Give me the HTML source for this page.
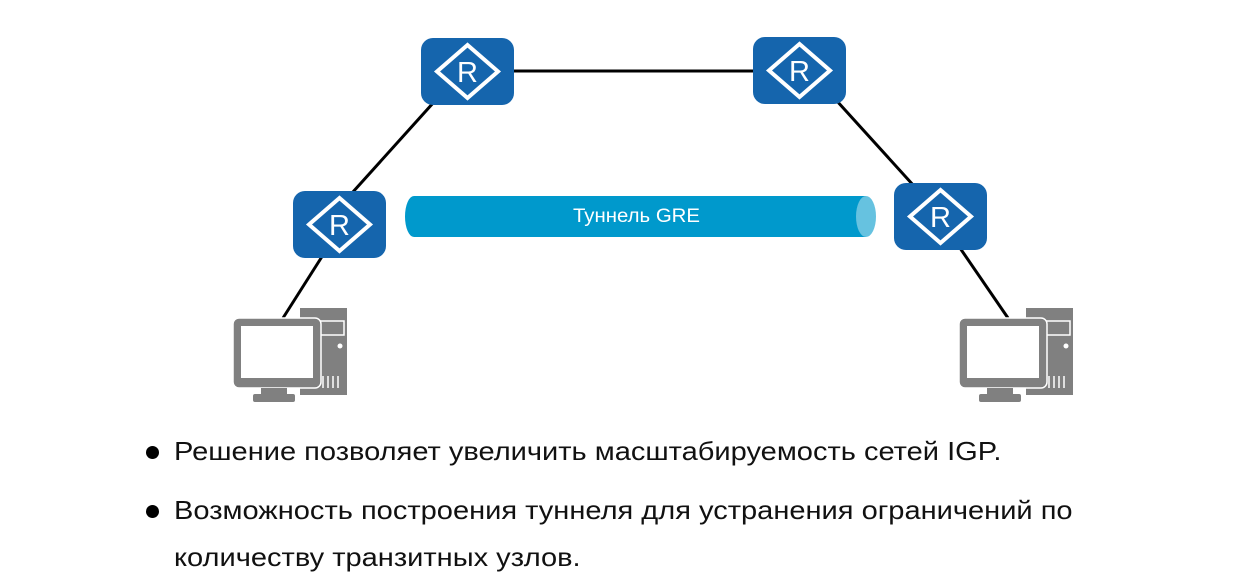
<!DOCTYPE html>
<html><head><meta charset="utf-8"><style>
body{margin:0;background:#fff;width:1253px;height:586px;overflow:hidden;position:relative;font-family:"Liberation Sans",Arial,sans-serif}
.t{position:absolute;left:174px;font-size:26px;color:#111;white-space:nowrap;transform:scaleX(1.117);transform-origin:0 0}
.b{position:absolute;left:146px;width:13px;height:13px;border-radius:50%;background:#000}
</style></head><body>
<svg width="1253" height="586" style="position:absolute;left:0;top:0">
<defs>
<g id="r">
<rect x="0" y="0" width="93" height="67" rx="12" fill="#1565ad"/>
<polygon points="46.5,7 77,33.5 46.5,60 16,33.5" fill="none" stroke="#fff" stroke-width="4"/>
<text x="46.5" y="44" text-anchor="middle" font-family="Liberation Sans,sans-serif" font-size="29" fill="#fff">R</text>
</g>
<g id="pc">
<rect x="67" y="0" width="47" height="87" fill="#808080"/>
<rect x="80" y="13" width="31" height="14" fill="none" stroke="#fff" stroke-width="1.5"/>
<circle cx="107" cy="38" r="2.5" fill="#fff"/>
<g stroke="#fff" stroke-width="1.5"><line x1="90" y1="68" x2="90" y2="80"/><line x1="95" y1="68" x2="95" y2="80"/><line x1="100" y1="68" x2="100" y2="80"/><line x1="105" y1="68" x2="105" y2="80"/></g>
<rect x="0" y="10" width="88" height="70" rx="6" fill="#808080" stroke="#fff" stroke-width="1.5"/>
<rect x="8" y="18" width="72" height="52" fill="#fff"/>
<rect x="28" y="80" width="26" height="6" fill="#808080"/>
<rect x="20" y="86" width="42" height="8" rx="2" fill="#808080"/>
</g>
</defs>
<g stroke="#000" stroke-width="3">
<line x1="514" y1="71" x2="753" y2="71"/>
<line x1="434" y1="102" x2="352" y2="193"/>
<line x1="323" y1="255" x2="283" y2="318"/>
<line x1="836" y1="100" x2="914" y2="186"/>
<line x1="960" y1="248" x2="1008" y2="318"/>
</g>
<use href="#r" x="421" y="38"/>
<use href="#r" x="753" y="37"/>
<use href="#r" x="293" y="191"/>
<use href="#r" x="894" y="183"/>
<use href="#pc" x="233" y="308"/>
<use href="#pc" x="959" y="308"/>
<path d="M414,196 H866 V237 H414 A9,20.5 0 0 1 414,196 Z" fill="#0099cc"/>
<ellipse cx="866" cy="216.5" rx="10" ry="20.5" fill="#66c2e0"/>
<text x="573" y="222" textLength="127" lengthAdjust="spacingAndGlyphs" font-family="Liberation Sans,sans-serif" font-size="19" fill="#fff">Туннель GRE</text>
</svg>
<div class="b" style="top:446px"></div><div class="t" style="top:436px">Решение позволяет увеличить масштабируемость сетей IGP.</div>
<div class="b" style="top:505px"></div><div class="t" style="top:495px">Возможность построения туннеля для устранения ограничений по</div>
<div class="t" style="top:542px">количеству транзитных узлов.</div>
</body></html>
